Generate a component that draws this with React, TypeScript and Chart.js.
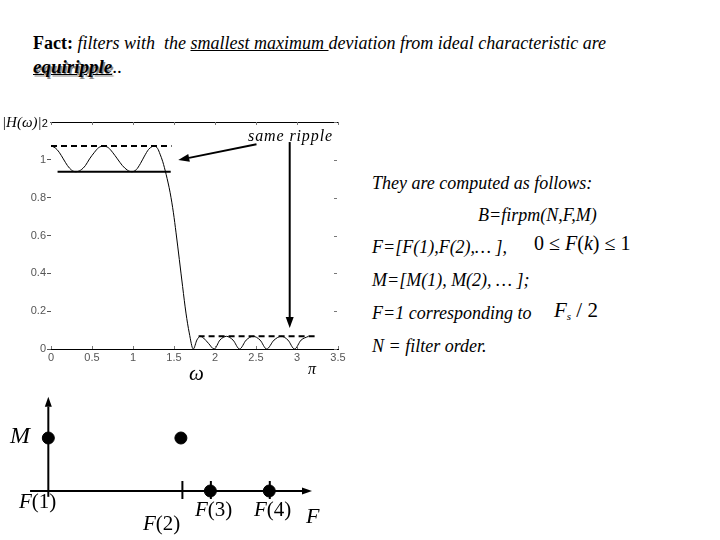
import React, { useEffect, useRef } from "react";
import { Chart, registerables } from "chart.js";

Chart.register(...registerables);

// ---------- data: squared magnitude response of the equiripple filter ----------
const omega = [
  0, 0.05, 0.1, 0.15, 0.2, 0.25, 0.3, 0.36, 0.42, 0.47, 0.53, 0.58, 0.64, 0.7, 0.75,
  0.81, 0.87, 0.93, 0.985, 1.04, 1.09, 1.14, 1.19, 1.23, 1.26, 1.3, 1.33, 1.363, 1.404,
  1.453, 1.493, 1.525, 1.565, 1.605, 1.646, 1.686, 1.735, 1.78, 1.82, 1.86, 1.92, 1.99,
  2.06, 2.14, 2.22, 2.3, 2.38, 2.465, 2.55, 2.63, 2.72, 2.81, 2.89, 2.97, 3.05, 3.14,
];
const magnitude = [
  1.073, 1.064, 1.04, 1.005, 0.97, 0.946, 0.937, 0.945, 0.97, 1.005, 1.04, 1.064, 1.073,
  1.064, 1.04, 1.005, 0.97, 0.946, 0.937, 0.948, 0.98, 1.02, 1.055, 1.069, 1.073, 1.06,
  1.03, 0.99, 0.923, 0.826, 0.72, 0.614, 0.473, 0.33, 0.19, 0.085, 0, 0.048, 0.067, 0.058,
  0.03, 0, 0.047, 0.067, 0.047, 0, 0.047, 0.067, 0.047, 0, 0.047, 0.067, 0.047, 0, 0.047,
  0.067,
];

// ripple bounds
const passUpperX = [0, 1.47];
const passUpperY = [1.073, 1.073];
const passLowerX = [0.08, 1.46];
const passLowerY = [0.937, 0.937];
const stopUpperX = [1.8, 3.26];
const stopUpperY = [0.067, 0.067];

// annotation arrows ("same ripple"), in data units
const arrowFromX = [2.506, 2.911];
const arrowFromY = [1.082, 1.094];
const arrowToX = [1.552, 2.911];
const arrowToY = [0.999, 0.111];

// axis ticks
const omegaTickStep = 0.5;
const magTickStep = 0.2;

// band-edge diagram (F, M)
const bandF = [0, 0.45, 0.55, 0.75];
const bandM = [1, 1, 0, 0];
const diagramFAxis = [-0.062, 0.895];
const diagramMAxis = [-0.11, 1.78];

const SERIF = '"Liberation Serif", "Times New Roman", serif';
const SANS = '"Liberation Sans", Arial, sans-serif';

function drawArrow(
  ctx: CanvasRenderingContext2D,
  x1: number,
  y1: number,
  x2: number,
  y2: number,
  head = 11,
  halfW = 4,
  lw = 2
) {
  const ang = Math.atan2(y2 - y1, x2 - x1);
  const bx = x2 - head * Math.cos(ang);
  const by = y2 - head * Math.sin(ang);
  ctx.lineWidth = lw;
  ctx.beginPath();
  ctx.moveTo(x1, y1);
  ctx.lineTo(bx, by);
  ctx.stroke();
  ctx.beginPath();
  ctx.moveTo(x2, y2);
  ctx.lineTo(bx + halfW * Math.sin(ang), by - halfW * Math.cos(ang));
  ctx.lineTo(bx - halfW * Math.sin(ang), by + halfW * Math.cos(ang));
  ctx.closePath();
  ctx.fill();
}

const framePlugin = {
  id: "frame",
  afterDatasetsDraw(chart: any) {
    const { ctx, chartArea: a, scales } = chart;
    const xs = scales.x;
    const ys = scales.y;
    ctx.save();
    ctx.strokeStyle = "#000";
    ctx.lineWidth = 1;
    ctx.beginPath();
    ctx.moveTo(a.left, Math.round(a.top) + 0.5);
    ctx.lineTo(a.right, Math.round(a.top) + 0.5);
    ctx.stroke();
    ctx.strokeStyle = "#777";
    xs.ticks.forEach((t: any) => {
      const px = Math.round(xs.getPixelForValue(t.value)) + 0.5;
      ctx.beginPath();
      ctx.moveTo(px, a.top);
      ctx.lineTo(px, a.top + 3);
      ctx.moveTo(px, a.bottom);
      ctx.lineTo(px, a.bottom - 3);
      ctx.stroke();
    });
    ys.ticks.forEach((t: any) => {
      const py = Math.round(ys.getPixelForValue(t.value)) + 0.5;
      ctx.beginPath();
      ctx.moveTo(a.right - 4, py);
      ctx.lineTo(a.right - 1, py);
      ctx.stroke();
    });
    ctx.strokeStyle = "#000";
    ctx.fillStyle = "#000";
    for (let i = 0; i < arrowFromX.length; i++) {
      drawArrow(
        ctx,
        xs.getPixelForValue(arrowFromX[i]),
        ys.getPixelForValue(arrowFromY[i]),
        xs.getPixelForValue(arrowToX[i]),
        ys.getPixelForValue(arrowToY[i])
      );
    }
    ctx.restore();
  },
};

const diagramPlugin = {
  id: "diagramAxes",
  beforeDatasetsDraw(chart: any) {
    const { ctx, scales } = chart;
    const xs = scales.x;
    const ys = scales.y;
    const y0 = ys.getPixelForValue(0);
    const x0 = xs.getPixelForValue(0);
    ctx.save();
    ctx.strokeStyle = "#000";
    ctx.fillStyle = "#000";
    drawArrow(ctx, xs.getPixelForValue(diagramFAxis[0]), y0, xs.getPixelForValue(diagramFAxis[1]), y0, 10, 3.5, 2);
    drawArrow(ctx, x0, ys.getPixelForValue(diagramMAxis[0]), x0, ys.getPixelForValue(diagramMAxis[1]), 10, 3.5, 2);
    ctx.lineWidth = 2;
    for (let i = 1; i < bandF.length; i++) {
      const px = xs.getPixelForValue(bandF[i]) + (i === 1 ? 1.5 : 0.5);
      ctx.beginPath();
      ctx.moveTo(px, y0 - 10);
      ctx.lineTo(px, y0 + 8);
      ctx.stroke();
    }
    ctx.restore();
  },
};

const fmt = (v: any) => String(Math.round(Number(v) * 10) / 10);

function TopChart() {
  const ref = useRef<HTMLCanvasElement | null>(null);
  useEffect(() => {
    if (!ref.current) return;
    const seg = (xs: number[], ys: number[]) => xs.map((x, i) => ({ x, y: ys[i] }));
    const chart = new Chart(ref.current, {
      type: "line",
      data: {
        datasets: [
          {
            data: seg(omega, magnitude),
            borderColor: "#000",
            borderWidth: 1,
            pointRadius: 0,
            cubicInterpolationMode: "monotone",
          },
          {
            data: seg(passUpperX, passUpperY),
            borderColor: "#000",
            borderWidth: 2,
            borderDash: [6, 4],
            pointRadius: 0,
          },
          {
            data: seg(passLowerX, passLowerY),
            borderColor: "#000",
            borderWidth: 2,
            pointRadius: 0,
          },
          {
            data: seg(stopUpperX, stopUpperY),
            borderColor: "#000",
            borderWidth: 2,
            borderDash: [6, 4],
            pointRadius: 0,
          },
        ],
      },
      options: {
        animation: false,
        responsive: false,
        maintainAspectRatio: false,
        layout: { padding: { left: 0, top: 22, right: 22, bottom: 21 }, autoPadding: false },
        plugins: { legend: { display: false }, tooltip: { enabled: false } },
        scales: {
          x: {
            type: "linear",
            min: 0,
            max: 3.5,
            ticks: {
              stepSize: omegaTickStep,
              font: { family: SANS, size: 11 },
              color: "#555",
              padding: 2,
              maxRotation: 0,
              autoSkip: false,
              callback: fmt,
            },
            grid: { display: false, drawTicks: false },
            border: { display: true, color: "#000", width: 1 },
            afterFit: (s: any) => {
              s.height = 20;
            },
          },
          y: {
            min: 0,
            max: 1.2,
            ticks: {
              stepSize: magTickStep,
              font: { family: SANS, size: 11 },
              color: "#555",
              padding: 1,
              callback: (v: any) => (Math.abs(v - 1.2) < 1e-9 ? "" : fmt(v)),
            },
            grid: { display: true, drawOnChartArea: false, drawTicks: true, tickLength: 4, color: "#555" },
            border: { display: false },
            afterFit: (s: any) => {
              s.width = 51;
            },
          },
        },
      },
      plugins: [framePlugin],
    } as any);
    return () => chart.destroy();
  }, []);
  return (
    <canvas
      ref={ref}
      width={360}
      height={290}
      style={{ position: "absolute", left: 0, top: 100, width: 360, height: 290, display: "block" }}
    />
  );
}

function BandChart() {
  const ref = useRef<HTMLCanvasElement | null>(null);
  useEffect(() => {
    if (!ref.current) return;
    const chart = new Chart(ref.current, {
      type: "scatter",
      data: {
        datasets: [
          {
            data: bandF.map((f, i) => ({ x: f, y: bandM[i] })),
            backgroundColor: "#000",
            borderColor: "#000",
            pointRadius: 6,
            pointHoverRadius: 6,
          },
        ],
      },
      options: {
        animation: false,
        responsive: false,
        maintainAspectRatio: false,
        layout: { padding: 0, autoPadding: false },
        plugins: { legend: { display: false }, tooltip: { enabled: false } },
        scales: {
          x: { type: "linear", display: false, min: -0.164, max: 0.99 },
          y: { type: "linear", display: false, min: -0.925, max: 1.906 },
        },
      },
      plugins: [diagramPlugin],
    } as any);
    return () => chart.destroy();
  }, []);
  return (
    <canvas
      ref={ref}
      width={340}
      height={150}
      style={{ position: "absolute", left: 0, top: 390, width: 340, height: 150, display: "block" }}
    />
  );
}

function T(props: {
  x: number;
  base: number;
  size: number;
  children: React.ReactNode;
  style?: React.CSSProperties;
}) {
  const { x, base, size, children, style } = props;
  return (
    <div
      style={{
        position: "absolute",
        left: x,
        top: base - 0.8375 * size,
        fontSize: size,
        lineHeight: `${size}px`,
        fontFamily: SERIF,
        whiteSpace: "nowrap",
        color: "#000",
        ...style,
      }}
    >
      {children}
    </div>
  );
}

export default function App() {
  const it: React.CSSProperties = { fontStyle: "italic" };
  return (
    <div
      style={{
        position: "absolute",
        left: 0,
        top: 0,
        width: 720,
        height: 540,
        background: "#fff",
        overflow: "hidden",
        fontFamily: SERIF,
      }}
    >
      <T x={33} base={49} size={18}>
        <b>Fact:</b>
        <i>
          {" "}filters with&nbsp; the <u>smallest maximum </u>deviation from ideal characteristic are
        </i>
      </T>
      <T x={33} base={73} size={19}>
        <b>
          <i>
            <u style={{ textShadow: "1.5px 1.5px 0 #888" }}>equiripple</u>
          </i>
        </b>
        ..
      </T>

      <TopChart />
      <BandChart />

      <T x={2} base={128} size={15} style={{ background: "#fff", paddingRight: 2 }}>
        <i>|H(ω)|</i>
        <span style={{ fontFamily: SANS, fontSize: 11 }}>2</span>
      </T>
      <T x={248} base={141} size={16} style={{ ...it, letterSpacing: 0.9 }}>
        same ripple
      </T>
      <T x={189} base={381} size={21} style={it}>
        ω
      </T>
      <T x={308} base={374} size={16} style={it}>
        π
      </T>

      <T x={372} base={189} size={18} style={it}>
        They are computed as follows:
      </T>
      <T x={478} base={221} size={18} style={it}>
        B=firpm(N,F,M)
      </T>
      <T x={372} base={253} size={18} style={it}>
        F=[F(1),F(2),… ],
      </T>
      <T x={534} base={250} size={20}>
        0 ≤ <i>F</i>(<i>k</i>) ≤ 1
      </T>
      <T x={372} base={286} size={18} style={it}>
        M=[M(1), M(2), … ];
      </T>
      <T x={372} base={319} size={18} style={it}>
        F=1 corresponding to
      </T>
      <T x={554} base={318} size={21}>
        <i>F</i>
        <sub style={{ fontSize: 11, fontStyle: "italic", verticalAlign: "-3px" }}>s</sub> / 2
      </T>
      <T x={372} base={352} size={18} style={it}>
        N = filter order.
      </T>

      <T x={10} base={443} size={24} style={it}>
        M
      </T>
      <T x={19} base={509} size={21}>
        <i>F</i>(1)
      </T>
      <T x={143} base={531} size={21}>
        <i>F</i>(2)
      </T>
      <T x={195} base={517} size={21}>
        <i>F</i>(3)
      </T>
      <T x={254} base={517} size={21}>
        <i>F</i>(4)
      </T>
      <T x={306} base={523} size={22} style={it}>
        F
      </T>
    </div>
  );
}
